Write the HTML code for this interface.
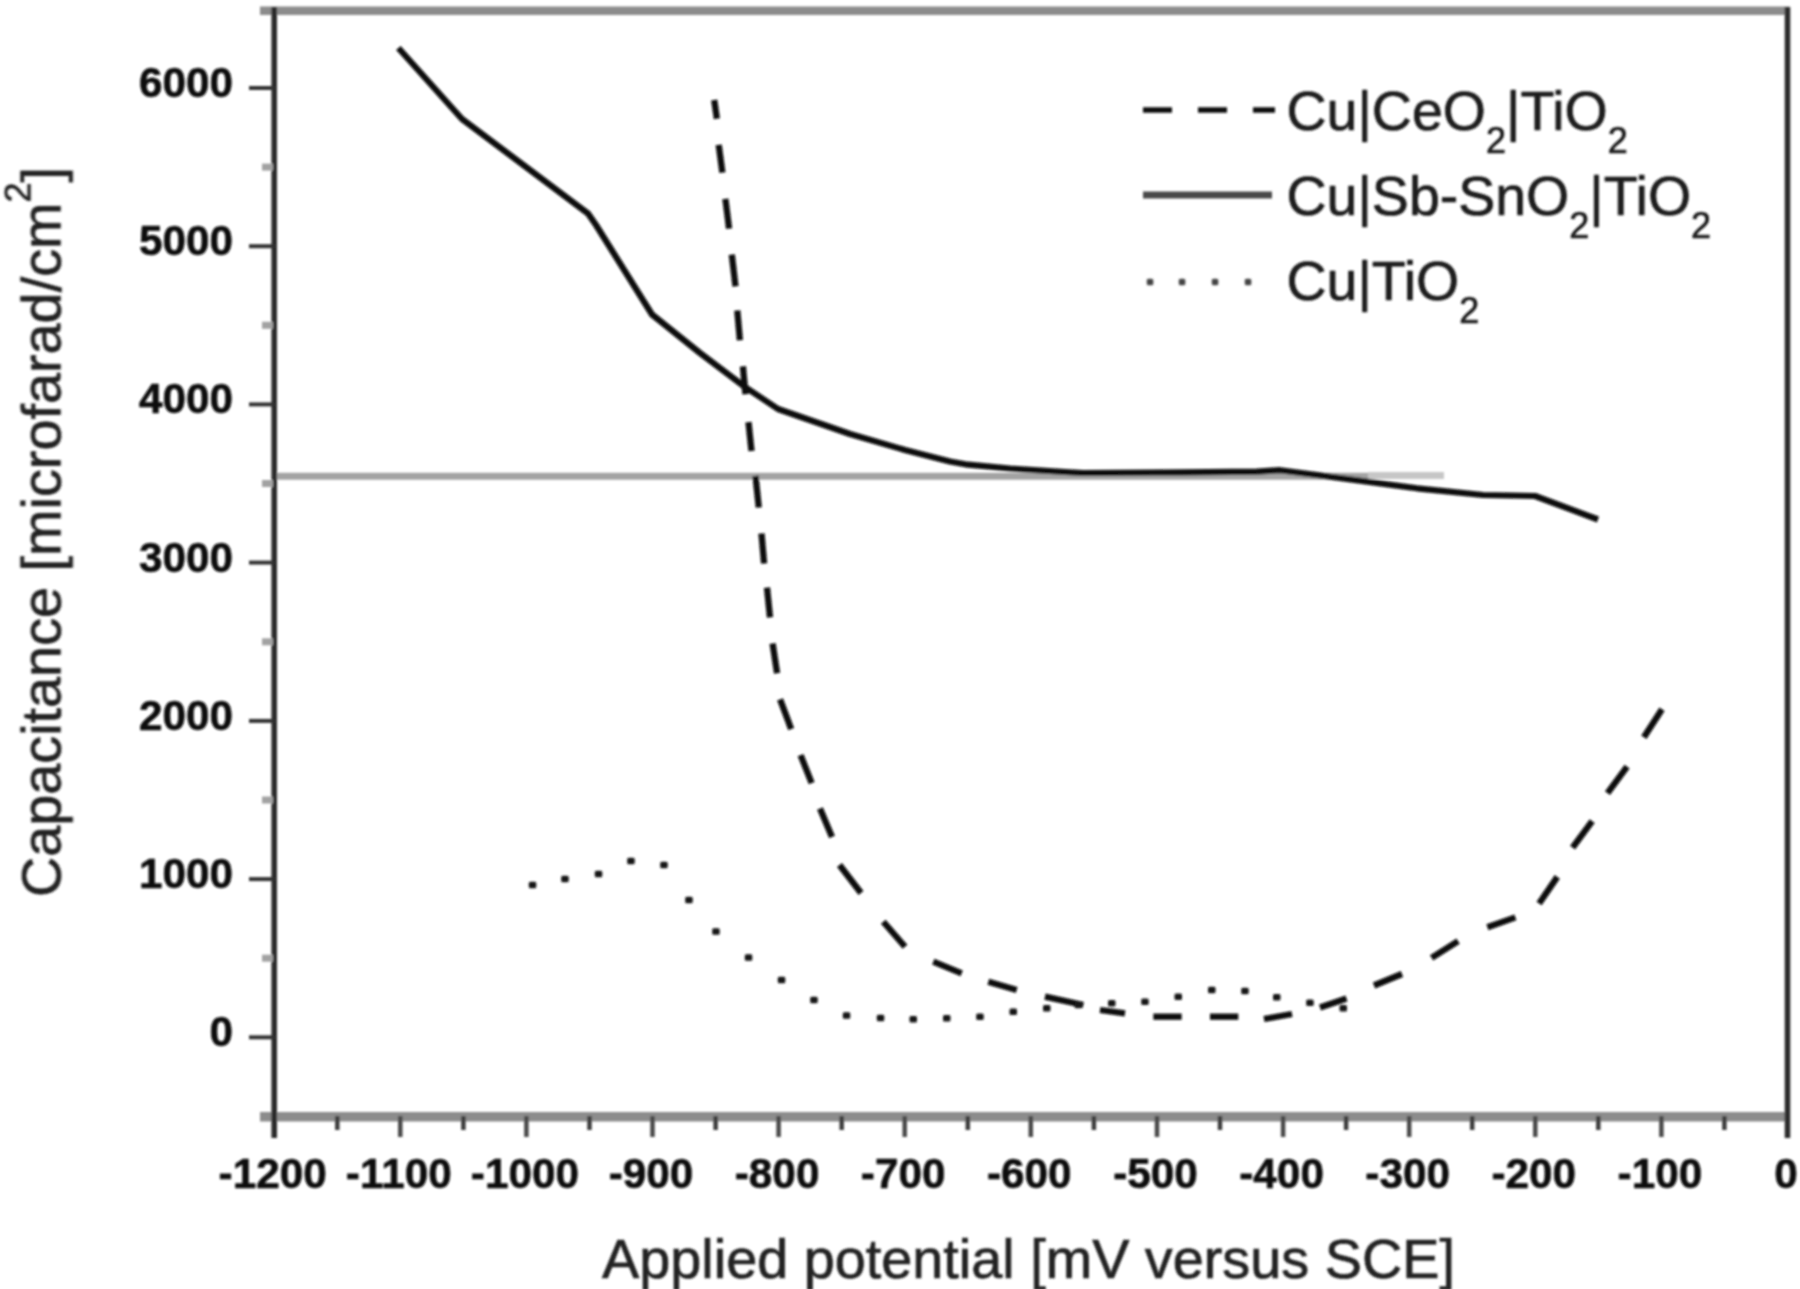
<!DOCTYPE html>
<html lang="en"><head><meta charset="utf-8"><title>Capacitance vs applied potential</title>
<style>html,body{margin:0;padding:0;background:#fff;}body{width:1800px;height:1289px;overflow:hidden;}svg{display:block;}
text{font-family:"Liberation Sans",Arial,Helvetica,sans-serif;fill:#1a1a1a;stroke:#1a1a1a;stroke-width:0.7px;stroke-linejoin:round;}
.tk{font-weight:bold;font-size:42.3px;fill:#111;stroke:#111;stroke-width:0.6px;}.lb{font-size:55.8px;fill:#222;stroke:#222;}.lg{font-size:55.5px;fill:#1c1c1c;stroke:#1c1c1c;}.sub{font-size:36px;}.sup{font-size:36px;}
</style></head><body>
<svg width="1800" height="1289" viewBox="0 0 1800 1289">
<defs><filter id="b" x="-5%" y="-5%" width="110%" height="110%"><feGaussianBlur stdDeviation="1.1"/></filter></defs>
<rect width="1800" height="1289" fill="#fff"/>
<g filter="url(#b)">
<g stroke="#8c8c8c" stroke-width="8.5" fill="none">
<line x1="260" y1="10.8" x2="1790" y2="10.8"/>
<line x1="260" y1="1116.8" x2="1790" y2="1116.8" stroke-width="9.5"/>
</g>
<line x1="274" y1="476.3" x2="1368" y2="476.3" stroke="#a3a3a3" stroke-width="7"/>
<line x1="1368" y1="475.5" x2="1444" y2="475.5" stroke="#c6c6c6" stroke-width="7"/>
<g stroke="#2a2a2a" stroke-width="5.6" fill="none" stroke-linecap="butt">
<line x1="274.2" y1="7" x2="274.2" y2="1138"/>
<line x1="1787.5" y1="7" x2="1787.5" y2="1138"/>
</g>
<g stroke="#333" stroke-width="4">
<line x1="249" y1="1037.3" x2="274" y2="1037.3"/>
<line x1="249" y1="879.1" x2="274" y2="879.1"/>
<line x1="249" y1="720.9" x2="274" y2="720.9"/>
<line x1="249" y1="562.6" x2="274" y2="562.6"/>
<line x1="249" y1="404.4" x2="274" y2="404.4"/>
<line x1="249" y1="246.2" x2="274" y2="246.2"/>
<line x1="249" y1="88.0" x2="274" y2="88.0"/>
</g>
<g stroke="#a2a2a2" stroke-width="7">
<line x1="262" y1="958.2" x2="273" y2="958.2"/>
<line x1="262" y1="800.0" x2="273" y2="800.0"/>
<line x1="262" y1="641.8" x2="273" y2="641.8"/>
<line x1="262" y1="483.5" x2="273" y2="483.5"/>
<line x1="262" y1="325.3" x2="273" y2="325.3"/>
<line x1="262" y1="167.1" x2="273" y2="167.1"/>
</g>
<g stroke="#4a4a4a" stroke-width="4.5">
<line x1="400.3" y1="1116" x2="400.3" y2="1137"/>
<line x1="526.4" y1="1116" x2="526.4" y2="1137"/>
<line x1="652.5" y1="1116" x2="652.5" y2="1137"/>
<line x1="778.6" y1="1116" x2="778.6" y2="1137"/>
<line x1="904.7" y1="1116" x2="904.7" y2="1137"/>
<line x1="1030.8" y1="1116" x2="1030.8" y2="1137"/>
<line x1="1157.0" y1="1116" x2="1157.0" y2="1137"/>
<line x1="1283.1" y1="1116" x2="1283.1" y2="1137"/>
<line x1="1409.2" y1="1116" x2="1409.2" y2="1137"/>
<line x1="1535.3" y1="1116" x2="1535.3" y2="1137"/>
<line x1="1661.4" y1="1116" x2="1661.4" y2="1137"/>
</g>
<g stroke="#3c3c3c" stroke-width="4.5">
<line x1="337.3" y1="1116" x2="337.3" y2="1130"/>
<line x1="463.4" y1="1116" x2="463.4" y2="1130"/>
<line x1="589.5" y1="1116" x2="589.5" y2="1130"/>
<line x1="715.6" y1="1116" x2="715.6" y2="1130"/>
<line x1="841.7" y1="1116" x2="841.7" y2="1130"/>
<line x1="967.8" y1="1116" x2="967.8" y2="1130"/>
<line x1="1093.9" y1="1116" x2="1093.9" y2="1130"/>
<line x1="1220.0" y1="1116" x2="1220.0" y2="1130"/>
<line x1="1346.1" y1="1116" x2="1346.1" y2="1130"/>
<line x1="1472.2" y1="1116" x2="1472.2" y2="1130"/>
<line x1="1598.3" y1="1116" x2="1598.3" y2="1130"/>
<line x1="1724.4" y1="1116" x2="1724.4" y2="1130"/>
</g>
<polyline fill="none" stroke="#0c0c0c" stroke-width="6.2" stroke-linejoin="round" stroke-linecap="butt" points="398.4,48.0 462.0,119.0 588.0,213.5 596.0,225.0 652.0,314.5 700.0,353.0 745.0,387.0 778.0,409.0 850.0,434.0 905.0,450.0 950.0,461.5 968.0,464.7 1010.0,468.5 1065.0,472.0 1083.0,473.0 1183.0,472.3 1257.0,471.7 1280.0,470.2 1317.0,475.0 1417.0,488.3 1483.0,495.0 1535.0,496.0 1598.0,519.5"/>
<g stroke="#0c0c0c" stroke-width="6.3" stroke-linecap="butt">
<line x1="714.2" y1="100.0" x2="716.9" y2="118.7"/>
<line x1="718.7" y1="144.8" x2="722.4" y2="172.7"/>
<line x1="725.4" y1="198.8" x2="729.1" y2="228.6"/>
<line x1="731.8" y1="254.6" x2="735.5" y2="286.3"/>
<line x1="737.3" y1="310.5" x2="739.9" y2="340.3"/>
<line x1="742.9" y1="366.4" x2="745.5" y2="394.3"/>
<line x1="748.5" y1="422.2" x2="751.5" y2="451.0"/>
<line x1="755.5" y1="475.9" x2="758.8" y2="507.5"/>
<line x1="761.5" y1="533.6" x2="764.1" y2="563.4"/>
<line x1="767.0" y1="587.6" x2="770.0" y2="617.4"/>
<line x1="772.6" y1="643.5" x2="777.1" y2="673.3"/>
<line x1="780.1" y1="699.3" x2="791.2" y2="729.1"/>
<line x1="800.6" y1="755.2" x2="811.7" y2="783.1"/>
<line x1="820.0" y1="808.5" x2="832.0" y2="837.0"/>
<line x1="839.5" y1="865.0" x2="861.0" y2="893.0"/>
<line x1="883.3" y1="921.7" x2="905.0" y2="946.7"/>
<line x1="933.3" y1="961.7" x2="961.7" y2="973.3"/>
<line x1="988.3" y1="981.7" x2="1016.7" y2="990.0"/>
<line x1="1045.0" y1="996.7" x2="1083.3" y2="1005.0"/>
<line x1="1100.0" y1="1010.0" x2="1125.0" y2="1013.3"/>
<line x1="1153.3" y1="1016.7" x2="1181.7" y2="1016.7"/>
<line x1="1210.0" y1="1016.7" x2="1238.3" y2="1016.7"/>
<line x1="1264.0" y1="1019.0" x2="1292.0" y2="1014.0"/>
<line x1="1320.0" y1="1007.5" x2="1346.5" y2="998.4"/>
<line x1="1374.0" y1="985.5" x2="1402.0" y2="974.0"/>
<line x1="1431.6" y1="957.9" x2="1458.1" y2="941.2"/>
<line x1="1487.4" y1="927.2" x2="1515.4" y2="917.4"/>
<line x1="1539.1" y1="903.5" x2="1557.3" y2="876.9"/>
<line x1="1572.6" y1="847.6" x2="1592.2" y2="821.1"/>
<line x1="1607.5" y1="793.1" x2="1627.1" y2="766.6"/>
<line x1="1643.9" y1="737.3" x2="1662.0" y2="709.3"/>
</g>
<g fill="#161616">
<rect x="528.8" y="881.8" width="7.5" height="6.5" rx="1.5"/>
<rect x="561.2" y="875.8" width="7.5" height="6.5" rx="1.5"/>
<rect x="594.8" y="870.8" width="7.5" height="6.5" rx="1.5"/>
<rect x="627.2" y="857.8" width="7.5" height="6.5" rx="1.5"/>
<rect x="660.2" y="861.8" width="7.5" height="6.5" rx="1.5"/>
<rect x="685.2" y="896.8" width="7.5" height="6.5" rx="1.5"/>
<rect x="712.2" y="928.2" width="7.5" height="6.5" rx="1.5"/>
<rect x="744.8" y="954.2" width="7.5" height="6.5" rx="1.5"/>
<rect x="777.8" y="976.8" width="7.5" height="6.5" rx="1.5"/>
<rect x="810.2" y="996.8" width="7.5" height="6.5" rx="1.5"/>
<rect x="842.8" y="1012.2" width="7.5" height="6.5" rx="1.5"/>
<rect x="876.8" y="1014.8" width="7.5" height="6.5" rx="1.5"/>
<rect x="909.5" y="1016.0" width="7.5" height="6.5" rx="1.5"/>
<rect x="943.0" y="1015.0" width="7.5" height="6.5" rx="1.5"/>
<rect x="976.2" y="1013.5" width="7.5" height="6.5" rx="1.5"/>
<rect x="1009.5" y="1008.5" width="7.5" height="6.5" rx="1.5"/>
<rect x="1043.0" y="1005.0" width="7.5" height="6.5" rx="1.5"/>
<rect x="1074.5" y="1001.8" width="7.5" height="6.5" rx="1.5"/>
<rect x="1108.0" y="1000.0" width="7.5" height="6.5" rx="1.5"/>
<rect x="1141.2" y="998.5" width="7.5" height="6.5" rx="1.5"/>
<rect x="1174.5" y="993.5" width="7.5" height="6.5" rx="1.5"/>
<rect x="1208.0" y="986.8" width="7.5" height="6.5" rx="1.5"/>
<rect x="1241.2" y="987.8" width="7.5" height="6.5" rx="1.5"/>
<rect x="1273.0" y="994.0" width="7.5" height="6.5" rx="1.5"/>
<rect x="1306.2" y="999.5" width="7.5" height="6.5" rx="1.5"/>
<rect x="1339.5" y="1005.0" width="7.5" height="6.5" rx="1.5"/>
</g>
<g stroke="#111" stroke-width="5.5">
<line x1="1143" y1="110" x2="1172" y2="110"/><line x1="1198" y1="110" x2="1227" y2="110"/><line x1="1253" y1="110" x2="1275" y2="110"/>
</g>
<line x1="1143" y1="195" x2="1272" y2="195" stroke="#4a4a4a" stroke-width="7"/>
<g fill="#444">
<rect x="1146.8" y="278.8" width="6.5" height="6.5" rx="1.5"/>
<rect x="1178.8" y="278.8" width="6.5" height="6.5" rx="1.5"/>
<rect x="1211.8" y="278.8" width="6.5" height="6.5" rx="1.5"/>
<rect x="1244.8" y="278.8" width="6.5" height="6.5" rx="1.5"/>
</g>
<text class="lg" x="1286.5" y="130">Cu|CeO<tspan class="sub" dy="22.5">2</tspan><tspan dy="-22.5">|TiO</tspan><tspan class="sub" dy="22.5">2</tspan></text>
<text class="lg" x="1286.5" y="215">Cu|Sb-SnO<tspan class="sub" dy="22.5">2</tspan><tspan dy="-22.5">|TiO</tspan><tspan class="sub" dy="22.5">2</tspan></text>
<text class="lg" x="1286.5" y="300">Cu|TiO<tspan class="sub" dy="22.5">2</tspan></text>
<text class="tk" text-anchor="end" x="233" y="1046.3">0</text>
<text class="tk" text-anchor="end" x="233" y="888.1">1000</text>
<text class="tk" text-anchor="end" x="233" y="729.9">2000</text>
<text class="tk" text-anchor="end" x="233" y="571.6">3000</text>
<text class="tk" text-anchor="end" x="233" y="413.4">4000</text>
<text class="tk" text-anchor="end" x="233" y="255.2">5000</text>
<text class="tk" text-anchor="end" x="233" y="97.0">6000</text>
<text class="tk" text-anchor="middle" x="272.7" y="1188">-1200</text>
<text class="tk" text-anchor="middle" x="398.8" y="1188">-1100</text>
<text class="tk" text-anchor="middle" x="524.9" y="1188">-1000</text>
<text class="tk" text-anchor="middle" x="651.0" y="1188">-900</text>
<text class="tk" text-anchor="middle" x="777.1" y="1188">-800</text>
<text class="tk" text-anchor="middle" x="903.2" y="1188">-700</text>
<text class="tk" text-anchor="middle" x="1029.3" y="1188">-600</text>
<text class="tk" text-anchor="middle" x="1155.5" y="1188">-500</text>
<text class="tk" text-anchor="middle" x="1281.6" y="1188">-400</text>
<text class="tk" text-anchor="middle" x="1407.7" y="1188">-300</text>
<text class="tk" text-anchor="middle" x="1533.8" y="1188">-200</text>
<text class="tk" text-anchor="middle" x="1659.9" y="1188">-100</text>
<text class="tk" text-anchor="middle" x="1786.0" y="1188">0</text>
<text class="lb" text-anchor="middle" x="1028.5" y="1277.5">Applied potential [mV versus SCE]</text>
<text class="lb" text-anchor="middle" transform="translate(60.5,532) rotate(-90)">Capacitance [microfarad/cm<tspan class="sup" dy="-30">2</tspan><tspan dy="30">]</tspan></text>
</g>
</svg></body></html>
